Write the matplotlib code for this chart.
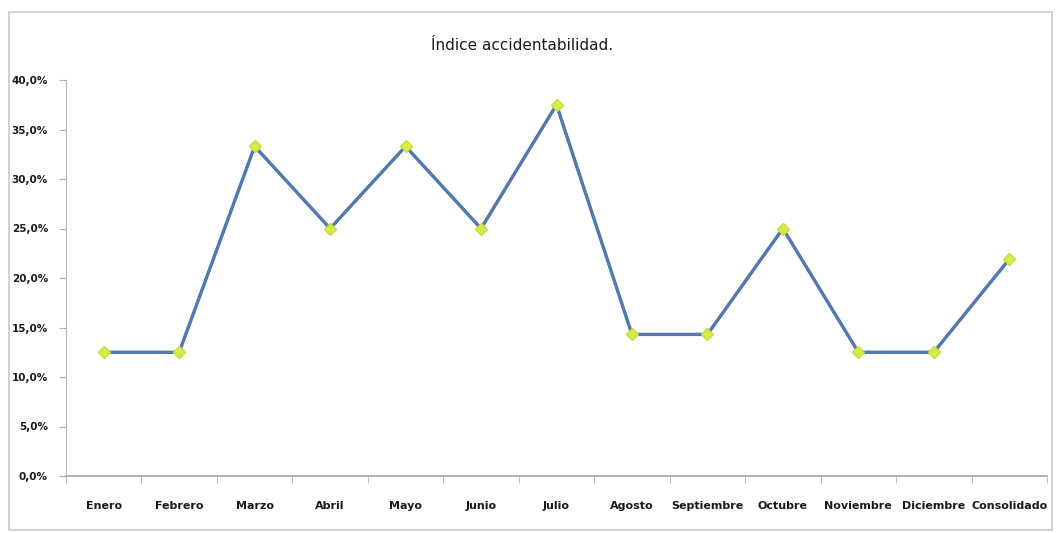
import matplotlib
matplotlib.use("Agg")
import matplotlib.pyplot as plt
from matplotlib.patches import Rectangle
from matplotlib.ticker import FuncFormatter, FixedLocator
import matplotlib.patheffects as pe
import numpy as np

plt.rcParams['font.family'] = ['DejaVu Sans Condensed', 'Liberation Sans Narrow', 'DejaVu Sans']

meses = ["Enero", "Febrero", "Marzo", "Abril", "Mayo", "Junio", "Julio",
         "Agosto", "Septiembre", "Octubre", "Noviembre", "Diciembre", "Consolidado"]
indice = [12.5, 12.5, 33.3, 25.0, 33.3, 25.0, 37.5,
          14.3, 14.3, 25.0, 12.5, 12.5, 21.9]
titulo = "Índice accidentabilidad."

W, H = 1057, 533
fig = plt.figure(figsize=(W / 100, H / 100), dpi=100)
fig.patch.set_facecolor("white")

# outer chart frame
fig.patches.append(Rectangle((9 / W, 1 - 530 / H), 1043 / W, 518 / H,
                             transform=fig.transFigure, fill=False,
                             edgecolor="#c8c8c8", linewidth=1.2))

ax = fig.add_axes([66 / W, 1 - 476 / H, (1047 - 66) / W, (476 - 80) / H])
x = np.arange(len(meses))
ax.plot(x, indice, color="#4d7cb8", linewidth=1.6, zorder=2,
        path_effects=[pe.Stroke(linewidth=2.4, foreground="#5a6f8c"), pe.Normal()])
ax.plot(x, indice, linestyle="none", marker="D", markersize=6.5,
        markerfacecolor="#d6ea4a", markeredgecolor="#c8dc3c", zorder=3)

ax.set_xlim(-0.5, len(meses) - 0.5)
ax.set_ylim(0, 40)
ax.set_yticks(np.arange(0, 41, 5))
ax.yaxis.set_major_formatter(FuncFormatter(lambda v, p: f"{v:.1f}%".replace(".", ",")))
ax.set_xticks(x)
ax.set_xticklabels(meses)
ax.xaxis.set_minor_locator(FixedLocator(np.arange(-0.5, len(meses), 1)))
ax.tick_params(axis="x", which="major", length=0, pad=18, labelsize=8)
ax.tick_params(axis="x", which="minor", length=5, color="#b0b0b0", direction="out")
ax.tick_params(axis="y", which="major", length=5, color="#b0b0b0", direction="out",
               pad=8, labelsize=7.5)
for lab in ax.get_xticklabels() + ax.get_yticklabels():
    lab.set_fontweight("bold")
    lab.set_color("#1a1a1a")

for s in ["top", "right"]:
    ax.spines[s].set_visible(False)
ax.spines["left"].set_color("#b8b8b8")
ax.spines["bottom"].set_color("#a8a8a8")
ax.spines["bottom"].set_linewidth(1.2)

fig.text(522 / W, 1 - 46 / H, titulo, ha="center", va="center",
         fontsize=11, color="#1a1a1a")

fig.savefig("out.png", dpi=100)
